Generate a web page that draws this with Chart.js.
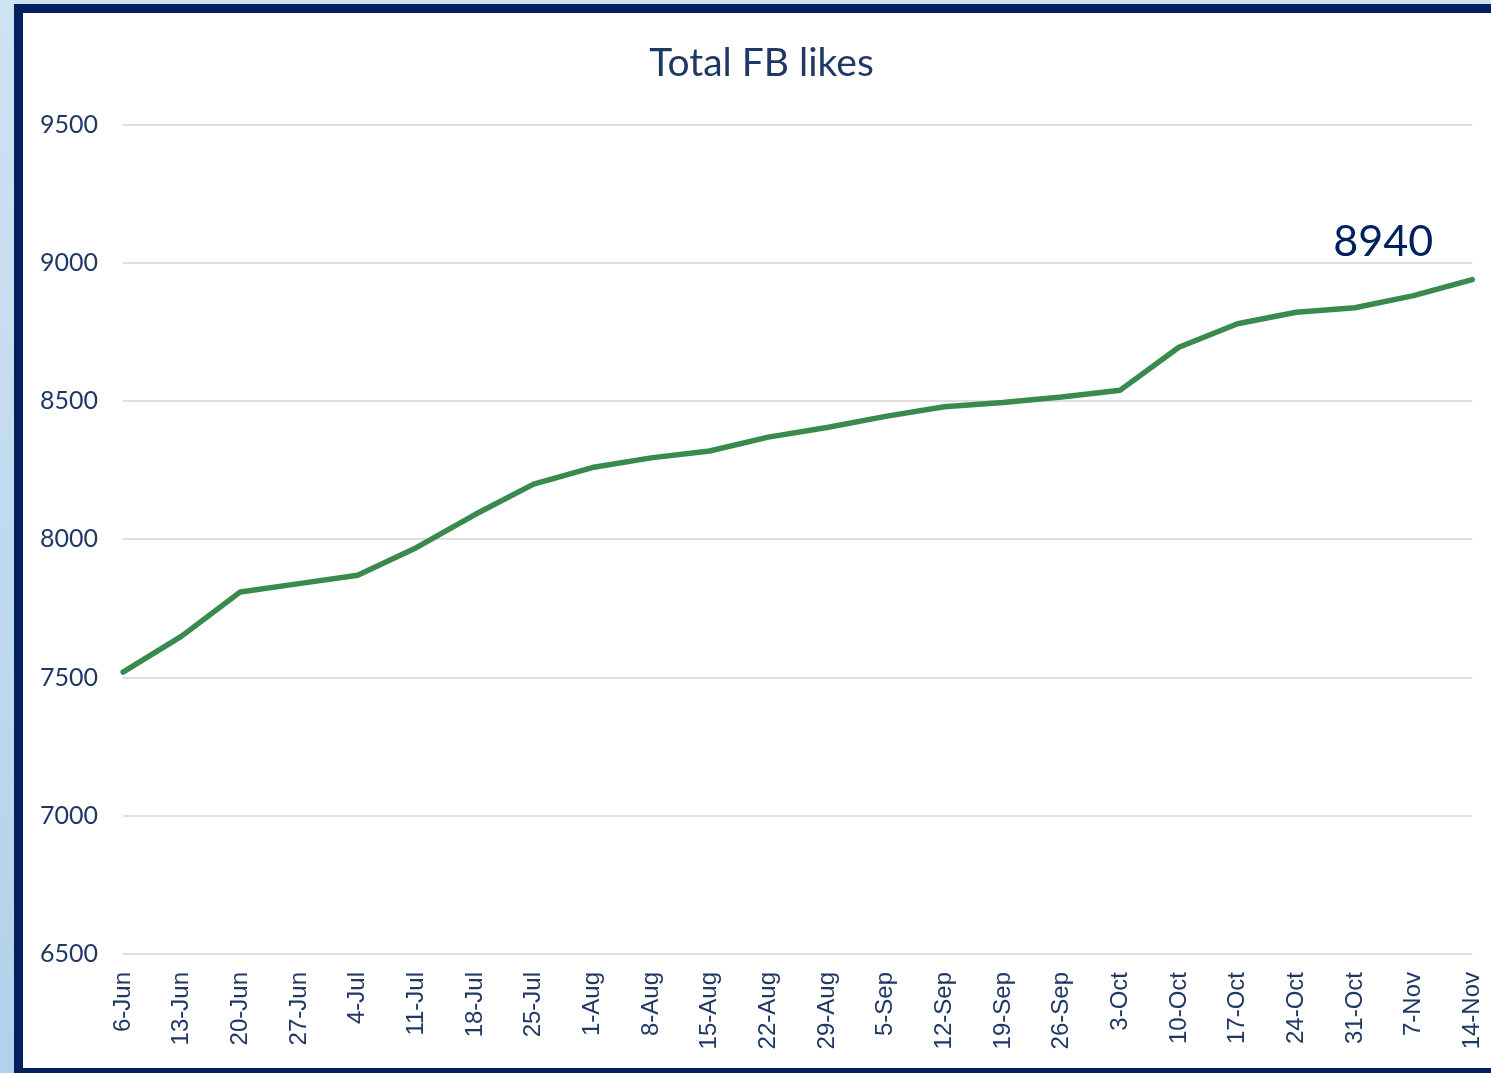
<!DOCTYPE html>
<html>
<head>
<meta charset="utf-8">
<script src="https://cdn.jsdelivr.net/npm/chart.js@4"></script>
<style>
  html, body { margin: 0; padding: 0; width: 1491px; height: 1073px; overflow: hidden; }
  body { background: linear-gradient(to bottom, #cfe2f3 0%, #b3d1eb 100%); position: relative; }
  #frame { position: absolute; left: 14px; top: 4px; width: 1520px; height: 1055px;
           border: 9px solid #002060; background: #ffffff; }
  #wrap { position: absolute; left: 0; top: 0; width: 1496px; height: 1055px; }
</style>
</head>
<body>
<div id="frame"><div id="wrap"><canvas id="c" width="1496" height="1055"></canvas></div></div>
<script>
const categories = ['6-Jun','13-Jun','20-Jun','27-Jun','4-Jul','11-Jul','18-Jul','25-Jul','1-Aug','8-Aug','15-Aug','22-Aug','29-Aug','5-Sep','12-Sep','19-Sep','26-Sep','3-Oct','10-Oct','17-Oct','24-Oct','31-Oct','7-Nov','14-Nov'];
const totalLikes = [7520,7650,7810,7840,7870,7970,8090,8200,8260,8295,8320,8370,8405,8445,8480,8495,8515,8540,8695,8780,8822,8838,8882,8940];
const yTicks = [6500,7000,7500,8000,8500,9000,9500];
const titleText = 'Total FB likes';
const lastLabel = '8940';

const navy = '#1f3864';

const lastLabelPlugin = {
  id: 'lastLabel',
  afterDatasetsDraw(chart) {
    const meta = chart.getDatasetMeta(0);
    const pt = meta.data[meta.data.length - 1];
    const ctx = chart.ctx;
    ctx.save();
    ctx.font = '43px Lato';
    ctx.fillStyle = '#002060';
    ctx.textAlign = 'center';
    ctx.textBaseline = 'alphabetic';
    ctx.fillText(lastLabel, pt.x - 89, pt.y - 24);
    ctx.restore();
  }
};

new Chart(document.getElementById('c'), {
  type: 'line',
  data: {
    labels: categories,
    datasets: [{
      data: totalLikes,
      borderColor: '#3a8a4e',
      borderWidth: 5.5,
      borderCapStyle: 'round',
      borderJoinStyle: 'round',
      pointRadius: 0,
      tension: 0,
      fill: false
    }]
  },
  options: {
    responsive: false,
    animation: false,
    layout: { padding: { left: 0, right: 19, top: 0, bottom: 0 } },
    plugins: {
      legend: { display: false },
      tooltip: { enabled: false },
      title: {
        display: true,
        text: titleText,
        color: navy,
        font: { family: 'Lato', size: 39, weight: 'normal' },
        padding: { top: 27, bottom: 38 }
      }
    },
    scales: {
      x: {
        offset: false,
        grid: { display: false, drawTicks: false },
        border: { display: false },
        ticks: {
          color: navy,
          font: { family: 'Liberation Sans', size: 24 },
          minRotation: 90, maxRotation: 90,
          padding: 18,
          autoSkip: false
        },
        afterFit(scale) { scale.height = 114; }
      },
      y: {
        min: 6500, max: 9500,
        afterBuildTicks(scale) { scale.ticks = yTicks.map(v => ({ value: v })); },
        grid: { color: '#dedede', lineWidth: 2, drawTicks: false },
        border: { display: false },
        ticks: {
          color: navy,
          font: { family: 'Lato', size: 25 },
          padding: 25,
          callback: v => String(v)
        },
        afterFit(scale) { scale.width = 100; }
      }
    }
  },
  plugins: [lastLabelPlugin]
});
</script>
</body>
</html>
